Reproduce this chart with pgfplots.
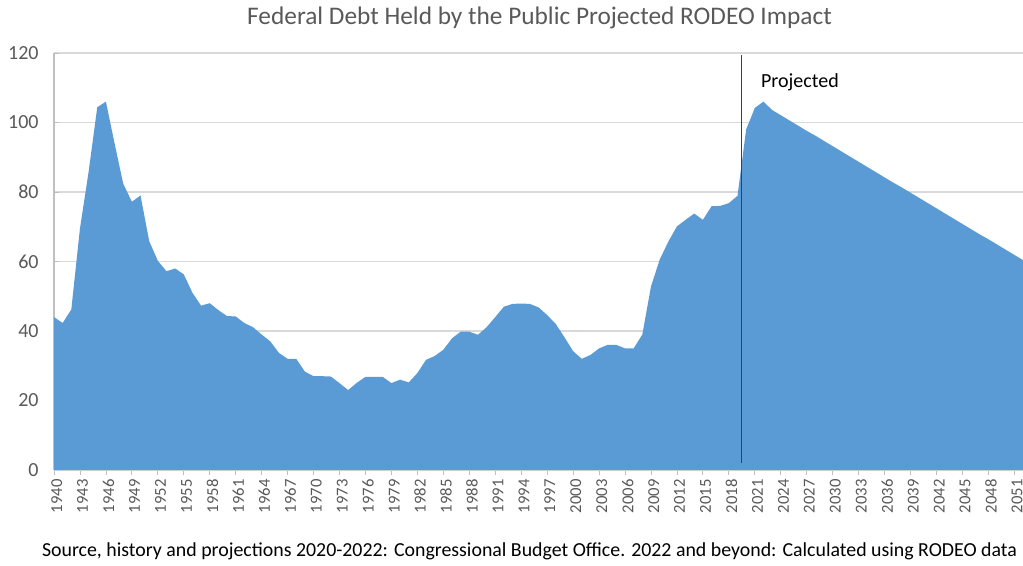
\documentclass[border=0pt]{standalone}
\usepackage{pgfplots}
\pgfplotsset{compat=1.18}
\usepackage{pgfplotstable}
\usepackage{fontspec}
\setmainfont{Carlito}
\definecolor{areablue}{HTML}{5B9BD5}
\definecolor{txtgray}{HTML}{595959}
\definecolor{gridgray}{HTML}{D9D9D9}
\definecolor{axgray}{HTML}{BFBFBF}
\definecolor{vline}{HTML}{404040}
\pgfplotstableread{
year debt
1940 44.0
1941 42.3
1942 46.2
1943 69.5
1944 85.8
1945 104.4
1946 106.0
1947 94.0
1948 82.4
1949 77.2
1950 79.0
1951 65.9
1952 60.2
1953 57.2
1954 58.0
1955 56.3
1956 51.0
1957 47.3
1958 48.0
1959 46.0
1960 44.3
1961 44.2
1962 42.3
1963 41.1
1964 39.0
1965 37.0
1966 33.7
1967 32.0
1968 32.0
1969 28.3
1970 27.0
1971 27.0
1972 26.9
1973 25.0
1974 23.0
1975 25.1
1976 26.8
1977 26.8
1978 26.8
1979 25.0
1980 26.0
1981 25.2
1982 27.9
1983 31.7
1984 32.8
1985 34.6
1986 37.9
1987 39.8
1988 39.8
1989 38.9
1990 41.1
1991 44.0
1992 47.0
1993 47.8
1994 47.9
1995 47.8
1996 46.8
1997 44.6
1998 42.0
1999 38.2
2000 34.2
2001 32.0
2002 33.1
2003 35.0
2004 36.0
2005 36.0
2006 35.0
2007 35.0
2008 39.0
2009 52.8
2010 60.5
2011 65.7
2012 70.1
2013 72.0
2014 73.8
2015 72.0
2016 75.9
2017 76.0
2018 76.8
2019 78.9
2020 98.0
2021 104.2
2022 106.0
2023 103.6
2024 102.1
2025 100.6
2026 99.1
2027 97.6
2028 96.2
2029 94.7
2030 93.2
2031 91.7
2032 90.2
2033 88.7
2034 87.2
2035 85.7
2036 84.2
2037 82.7
2038 81.3
2039 79.8
2040 78.3
2041 76.8
2042 75.3
2043 73.8
2044 72.3
2045 70.8
2046 69.3
2047 67.8
2048 66.4
2049 64.9
2050 63.4
2051 61.9
2052 60.4
}\debt
\begin{document}
\begin{tikzpicture}[x=0.75pt,y=0.75pt]
\useasboundingbox (0,0) rectangle (1023,565);
\begin{axis}[
  at={(40.5pt,71.25pt)}, anchor=south west,
  scale only axis, width=726.75pt, height=312.75pt,
  xmin=1940, xmax=2052, ymin=0, ymax=120,
  axis lines*=left,
  x axis line style={draw=gridgray, line width=1.5pt},
  y axis line style={draw=axgray, line width=0.9pt},
  xtick={1940,1943,...,2051},
  minor x tick num=2,
  ytick={0,20,...,120},
  xtick align=outside, ytick align=inside,
  major tick length=3.5pt, minor tick length=3.5pt,
  every tick/.style={draw=axgray, line width=0.6pt},
  ymajorgrids, major grid style={draw=gridgray, line width=0.9pt},
  /pgf/number format/assume math mode=true,
  xticklabel={\pgfmathprintnumber[1000 sep={}]{\tick}},
  yticklabel={\pgfmathprintnumber{\tick}},
  xticklabel style={rotate=90, anchor=east, font=\fontsize{12.5}{13}\selectfont, text=txtgray, yshift=-2pt},
  yticklabel style={font=\fontsize{15}{16}\selectfont, text=txtgray, xshift=-8pt},
  clip=true,
]
\addplot[fill=areablue, draw=none] table[x=year, y=debt] {\debt} \closedcycle;
\draw[vline, line width=0.9pt] (axis cs:2019.5,2) -- (axis cs:2019.5,119.5);
\node[anchor=west, inner sep=0pt, text=black, font=\fontsize{15}{16}\selectfont] at (axis cs:2021.7,111.7) {Projected};
\end{axis}
\node[text=txtgray, font=\fontsize{19}{20}\selectfont, inner sep=0pt] at (539.5,547) {Federal Debt Held by the Public Projected RODEO Impact};
\node[text=black, font=\fontsize{14.9}{16}\selectfont, inner sep=0pt] at (529.5,14) {Source, history and projections 2020-2022: Congressional Budget Office. 2022 and beyond: Calculated using RODEO data};
\end{tikzpicture}
\end{document}
